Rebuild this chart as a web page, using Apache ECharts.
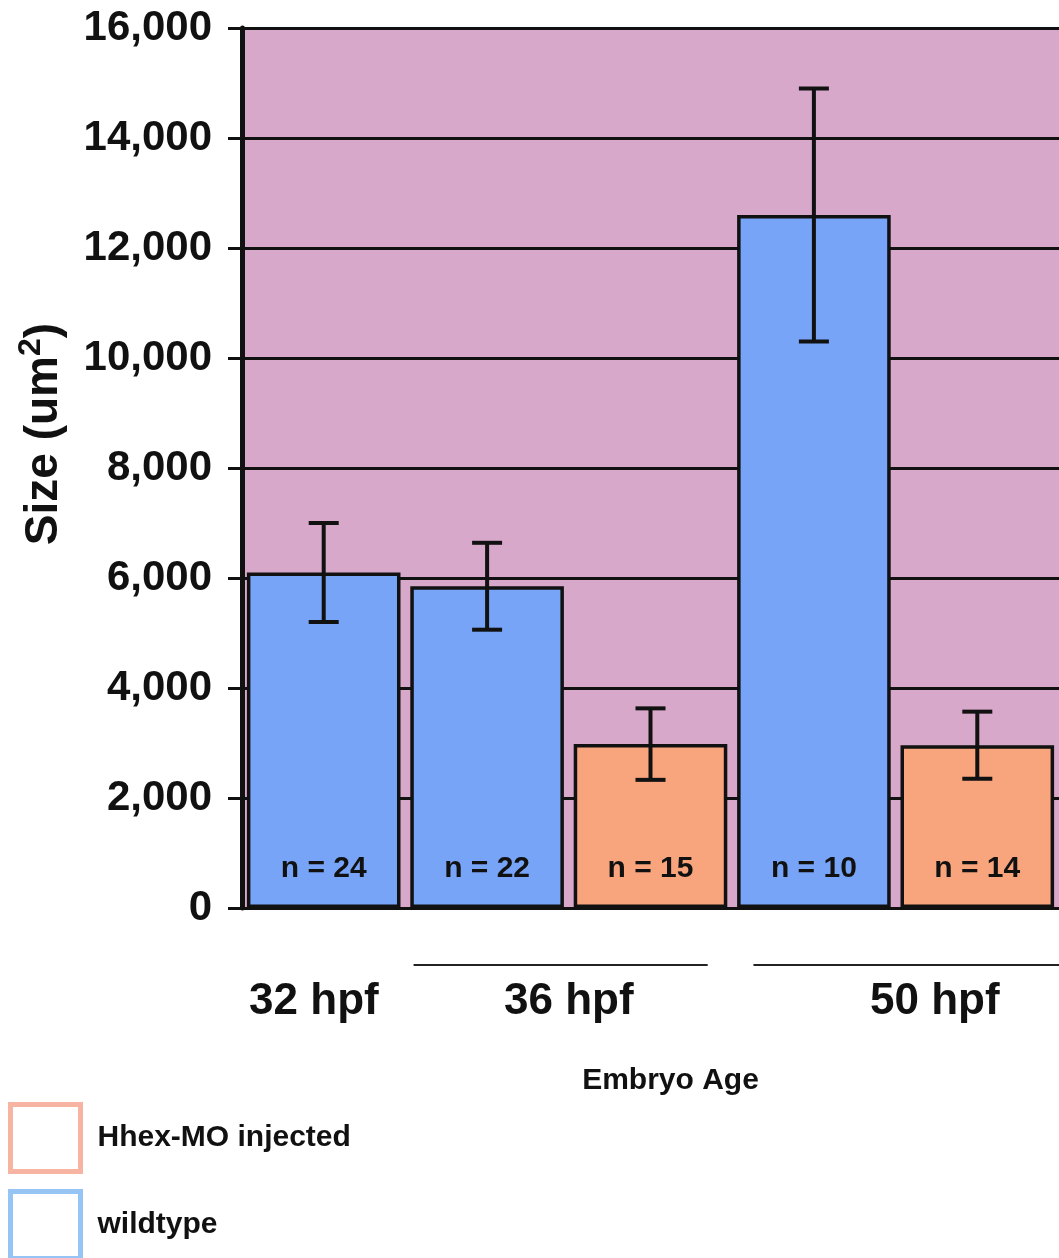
<!DOCTYPE html>
<html>
<head>
<meta charset="utf-8">
<style>
  html, body { margin: 0; padding: 0; background: #ffffff; }
  #chart { width: 1059px; height: 1258px; }
</style>
<script src="https://cdn.jsdelivr.net/npm/echarts@6/dist/echarts.min.js"></script>
</head>
<body>
<div id="chart"></div>
<script>
// ---- data ----
const categories = ['32 hpf WT', '36 hpf WT', '36 hpf MO', '50 hpf WT', '50 hpf MO'];
const wildtypeValues = [6100, 5850, '-', 12600, '-'];
const moValues = ['-', '-', 2980, '-', 2960];
const errorValues = [900, 790, 650, 2300, 610];
const sampleSizes = [24, 22, 15, 10, 14];
const groupLabels = ['32 hpf', '36 hpf', '50 hpf'];
const yTicks = [0, 2000, 4000, 6000, 8000, 10000, 12000, 14000, 16000];

const seriesWT = 'wildtype';
const seriesMO = 'Hhex-MO injected';
const blue = '#78a4f8';
const orange = '#f8a47c';
const FONT = 'Liberation Sans, Arial, Helvetica, sans-serif';

const means = categories.map((c, i) => wildtypeValues[i] !== '-' ? wildtypeValues[i] : moValues[i]);
const errorData = means.map((m, i) => [i, m - errorValues[i], m + errorValues[i]]);

const chart = echarts.init(document.getElementById('chart'));

function nLabel(p) { return 'n = ' + sampleSizes[p.dataIndex]; }

const labelStyle = {
  show: true, position: 'insideBottom', distance: 24,
  formatter: nLabel, color: '#111', fontFamily: FONT, fontWeight: 'bold', fontSize: 30
};

const legendBase = {
  orient: 'vertical', left: 8, padding: 0,
  itemWidth: 70, itemHeight: 67, icon: 'rect',
  textStyle: { fontFamily: FONT, fontWeight: 'bold', fontSize: 30, color: '#111', padding: [0, 0, 0, 12] }
};

chart.setOption({
  animation: false,
  grid: {
    left: 242, right: 0, top: 28, bottom: 350,
    show: true, backgroundColor: '#d7a8c9', borderWidth: 0
  },
  xAxis: {
    type: 'category', data: categories,
    axisLine: { show: false }, axisTick: { show: false }, axisLabel: { show: false },
    name: 'Embryo Age', nameLocation: 'middle', nameGap: 158,
    nameTextStyle: { fontFamily: FONT, fontWeight: 'bold', fontSize: 30, color: '#111', padding: [0, 0, 0, 40] }
  },
  yAxis: {
    type: 'value', min: yTicks[0], max: yTicks[yTicks.length - 1], interval: yTicks[1] - yTicks[0],
    axisLine: { show: true, lineStyle: { color: '#111', width: 5 } },
    axisTick: { show: true, inside: false, length: 14, lineStyle: { color: '#111', width: 3 } },
    splitLine: { show: true, lineStyle: { color: '#111', width: 3 } },
    axisLabel: {
      margin: 30, color: '#111', fontFamily: FONT, fontWeight: 'bold', fontSize: 42,
      formatter: v => v.toLocaleString('en-US')
    },
    name: '{n|Size (um}{s|2}{n|)}', nameLocation: 'middle', nameGap: 175, nameRotate: 90,
    nameTextStyle: {
      padding: [0, 0, 0, 68],
      rich: {
        n: { fontFamily: FONT, fontWeight: 'bold', fontSize: 46, color: '#111', lineHeight: 52, verticalAlign: 'bottom' },
        s: { fontFamily: FONT, fontWeight: 'bold', fontSize: 32, color: '#111', lineHeight: 52, verticalAlign: 'top' }
      }
    }
  },
  legend: [
    Object.assign({}, legendBase, {
      top: 1102,
      data: [{ name: seriesMO, itemStyle: { color: '#ffffff', borderColor: '#f7b4a2', borderWidth: 5 } }]
    }),
    Object.assign({}, legendBase, {
      top: 1189,
      data: [{ name: seriesWT, itemStyle: { color: '#ffffff', borderColor: '#96c4f4', borderWidth: 5 } }]
    })
  ],
  series: [
    {
      name: seriesWT, type: 'bar', stack: 'all', data: wildtypeValues, barCategoryGap: '6%',
      itemStyle: { color: blue, borderColor: '#111', borderWidth: 3.5 },
      label: labelStyle, z: 3
    },
    {
      name: seriesMO, type: 'bar', stack: 'all', data: moValues, barCategoryGap: '6%',
      itemStyle: { color: orange, borderColor: '#111', borderWidth: 3.5 },
      label: labelStyle, z: 3
    },
    {
      type: 'custom', name: 'error', data: errorData, z: 5, silent: true,
      encode: { x: 0, y: [1, 2] },
      renderItem: function (params, api) {
        const x = api.value(0);
        const lo = api.coord([x, api.value(1)]);
        const hi = api.coord([x, api.value(2)]);
        const half = 15;
        const style = { stroke: '#111', lineWidth: 4 };
        return {
          type: 'group',
          children: [
            { type: 'line', shape: { x1: lo[0], y1: lo[1], x2: hi[0], y2: hi[1] }, style: style },
            { type: 'line', shape: { x1: lo[0] - half, y1: lo[1], x2: lo[0] + half, y2: lo[1] }, style: style },
            { type: 'line', shape: { x1: hi[0] - half, y1: hi[1], x2: hi[0] + half, y2: hi[1] }, style: style }
          ]
        };
      }
    }
  ]
});

// group labels & underlines below the axis, positioned from the category axis
const px = i => chart.convertToPixel({ xAxisIndex: 0 }, i);
const step = px(1) - px(0);
const labelY = 1002;
const lineY = 965;
const groupCenters = [px(0) - 0.06 * step, (px(1) + px(2)) / 2, px(3) + 0.74 * step];
const elements = groupLabels.map((t, i) => ({
  type: 'text', x: groupCenters[i], y: labelY,
  style: { text: t, fill: '#111', font: 'bold 44px ' + FONT, align: 'center', verticalAlign: 'middle' }
}));
elements.push({ type: 'line', shape: { x1: px(1) - 0.45 * step, y1: lineY, x2: px(2) + 0.35 * step, y2: lineY }, style: { stroke: '#222', lineWidth: 2 } });
elements.push({ type: 'line', shape: { x1: px(3) - 0.37 * step, y1: lineY, x2: px(4) + 0.5 * step, y2: lineY }, style: { stroke: '#222', lineWidth: 2 } });
chart.setOption({ graphic: { elements: elements } });
</script>
</body>
</html>
